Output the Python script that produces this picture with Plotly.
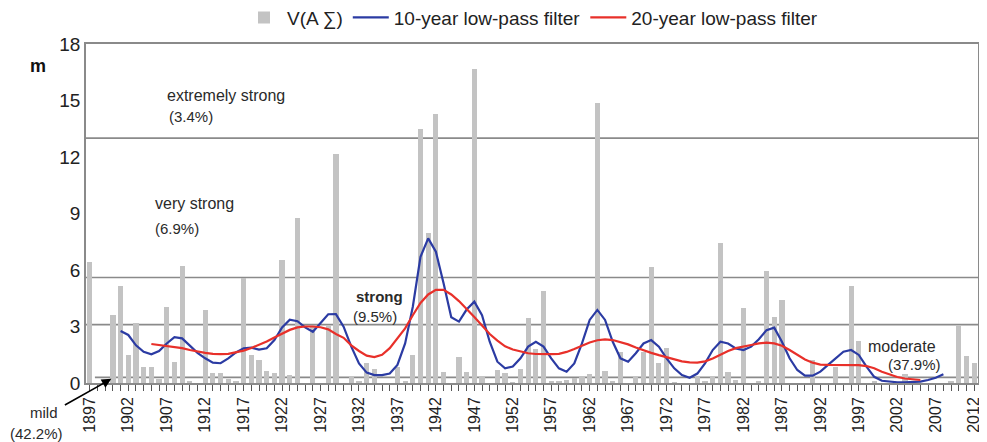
import plotly.graph_objects as go

# annual values V(AΣ), m, 1897-2012
years = list(range(1897, 2013))
v_sum = [
    6.45, 0, 0, 3.6, 5.15, 1.48, 3.2, 0.83, 0.83, 0.2,        # 1897-1906
    4.05, 1.12, 6.23, 0.07, 0, 3.9, 0.55, 0.55, 0.2, 0.1,     # 1907-1916
    5.58, 1.5, 1.22, 0.65, 0.55, 6.55, 0.42, 8.75, 0, 3.08,   # 1917-1926
    0, 3.1, 12.18, 0, 0.32, 0.07, 1.04, 0.73, 0, 0,           # 1927-1936
    0.85, 0.08, 1.49, 13.5, 7.95, 14.27, 0.6, 0, 1.4, 0.6,    # 1937-1946
    16.66, 0.33, 0, 0.69, 0.52, 0.05, 0.76, 3.45, 1.8, 4.89,  # 1947-1956
    0.07, 0.13, 0.15, 0.27, 0.32, 0.46, 14.85, 0.62, 0.1, 1.62,  # 1957-1966
    0, 0.34, 1.66, 6.16, 1.04, 1.84, 0.05, 0, 0, 0.3,         # 1967-1976
    0.1, 0.3, 7.43, 0.6, 0.17, 4.0, 0, 0.1, 5.93, 3.49,       # 1977-1986
    4.4, 0, 0, 0, 1.22, 0, 0, 0.84, 0, 5.17,                  # 1987-1996
    2.25, 0, 0.1, 0, 0, 0, 0.5, 0, 0, 0,                      # 1997-2006
    0, 0, 0.12, 3.08, 1.43, 1.08,                             # 2007-2012
]

# 10-year low-pass filter, 1901-2008
lp10_years = list(range(1901, 2009))
lp10 = [
    2.76, 2.55, 2.0, 1.66, 1.52, 1.7, 2.1, 2.43, 2.37, 2.0,
    1.6, 1.31, 1.08, 1.05, 1.31, 1.62, 1.84, 1.88, 1.77, 1.84,
    2.28, 2.95, 3.36, 3.28, 2.95, 2.72, 3.17, 3.65, 3.66, 2.99,
    1.93, 1.04, 0.55, 0.42, 0.42, 0.5, 0.96, 2.1, 4.05, 6.7,
    7.68, 6.97, 5.3, 3.49, 3.26, 3.9, 4.32, 3.6, 2.19, 1.13,
    0.78, 0.87, 1.31, 1.93, 2.19, 1.93, 1.31, 0.78, 0.6, 1.04,
    2.1, 3.35, 3.88, 3.35, 2.19, 1.31, 1.13, 1.58, 2.1, 2.28,
    1.93, 1.31, 0.78, 0.42, 0.28, 0.5, 1.04, 1.75, 2.19, 2.1,
    1.84, 1.75, 1.93, 2.32, 2.81, 2.94, 2.19, 1.31, 0.69, 0.39,
    0.39, 0.6, 0.96, 1.31, 1.66, 1.75, 1.49, 0.87, 0.33, 0.12,
    0.07, 0.04, 0.04, 0.04, 0.07, 0.16, 0.28, 0.46,
]

# 20-year low-pass filter, 1905-2005
lp20_years = list(range(1905, 2006))
lp20 = [
    2.07, 2.02, 1.97, 1.92, 1.85, 1.75, 1.66, 1.6, 1.55, 1.53,
    1.55, 1.62, 1.72, 1.86, 2.02, 2.2, 2.42, 2.62, 2.82, 2.95,
    3.0, 3.0, 2.96, 2.85, 2.6, 2.4, 2.0, 1.7, 1.45, 1.38,
    1.5, 1.85, 2.35, 2.9, 3.6, 4.25, 4.7, 4.95, 4.95, 4.7,
    4.35, 3.95, 3.5, 3.05, 2.6, 2.25, 1.95, 1.78, 1.66, 1.58,
    1.54, 1.53, 1.53, 1.55, 1.65, 1.8, 1.98, 2.15, 2.27, 2.32,
    2.28, 2.18, 2.05, 1.88, 1.72, 1.6, 1.48, 1.36, 1.24, 1.15,
    1.1, 1.08, 1.15, 1.3, 1.5, 1.7, 1.85, 1.95, 2.02, 2.1,
    2.14, 2.1, 1.98, 1.75, 1.5, 1.25, 1.08, 0.98, 0.96, 0.96,
    0.96, 0.96, 0.95, 0.9, 0.78, 0.6, 0.45, 0.32, 0.24, 0.19,
    0.16,
]

# class boundaries (m)
thresholds = [0.3, 3.1, 5.6, 13.0]

FONT = "Liberation Sans, Arial, sans-serif"
GRID = "#8a8a8a"

fig = go.Figure()

fig.add_trace(go.Bar(
    x=years, y=v_sum, name="V(A \u2211)",
    marker=dict(color="#c3c3c3", line=dict(width=0)),
    width=0.68,
))
fig.add_trace(go.Scatter(
    x=lp10_years, y=lp10, mode="lines", name="10-year low-pass filter",
    line=dict(color="#2b3ba3", width=2.2),
))
fig.add_trace(go.Scatter(
    x=lp20_years, y=lp20, mode="lines", name="20-year low-pass filter",
    line=dict(color="#e8302a", width=2.2),
))

# horizontal class lines
for t in thresholds:
    fig.add_shape(
        type="line", xref="paper", yref="y",
        x0=0.01 if t < 1 else 0, x1=1, y0=t, y1=t,
        line=dict(color=GRID, width=1.6), layer="below",
    )

labels = [
    ("extremely strong", 1906.8, 15.25, 16, False),
    ("(3.4%)", 1907.0, 14.15, 15, False),
    ("very strong", 1905.2, 9.55, 16, False),
    ("(6.9%)", 1905.2, 8.2, 15, False),
    ("strong", 1931.4, 4.6, 15, True),
    ("(9.5%)", 1931.0, 3.55, 15, False),
    ("moderate", 1997.9, 1.95, 16, False),
    ("(37.9%)", 2000.6, 1.0, 15, False),
]
for text, x, y, size, bold in labels:
    fig.add_annotation(
        x=x, y=y, text=f"<b>{text}</b>" if bold else text,
        xanchor="left", yanchor="middle", showarrow=False,
        font=dict(size=size, color="#2a2a2a", family=FONT),
    )

# mild class label with arrow, below the axis
fig.add_annotation(x=-0.047, y=-0.086, xref="paper", yref="paper", text="mild",
                   xanchor="center", yanchor="middle", showarrow=False,
                   font=dict(size=15, color="#2a2a2a", family=FONT))
fig.add_annotation(x=-0.055, y=-0.148, xref="paper", yref="paper", text="(42.2%)",
                   xanchor="center", yanchor="middle", showarrow=False,
                   font=dict(size=15, color="#2a2a2a", family=FONT))
fig.add_annotation(x=1899.8, y=0.22, text="", showarrow=True, ax=-48, ay=27,
                   arrowhead=2, arrowsize=1.2, arrowwidth=1.6, arrowcolor="black")

# y unit
fig.add_annotation(x=-0.054, y=0.936, xref="paper", yref="paper", text="<b>m</b>",
                   xanchor="center", yanchor="middle", showarrow=False,
                   font=dict(size=18, color="#111", family=FONT))

# page body adds ~8px offset, so the figure is sized to fit inside the window
fig.update_layout(
    width=979, height=434,
    margin=dict(l=78, r=9, t=36, b=59, autoexpand=False),
    plot_bgcolor="white", paper_bgcolor="white",
    font=dict(family=FONT, color="#222"),
    bargap=0,
    showlegend=True,
    legend=dict(
        orientation="h", x=0.5, xanchor="center", y=1.078, yanchor="middle",
        font=dict(size=19, family=FONT, color="#222"),
        bgcolor="rgba(0,0,0,0)", itemwidth=36, traceorder="normal",
    ),
)

fig.update_xaxes(
    range=[1896.5, 2012.5], automargin=False,
    tickmode="linear", tick0=1897, dtick=5,
    tickangle=-90, tickfont=dict(size=16, family=FONT, color="#222"),
    ticks="outside", ticklen=6, tickcolor="#555",
    minor=dict(dtick=1, tick0=1897, ticks="outside", ticklen=6, tickcolor="#555"),
    showgrid=False, showline=True, linecolor=GRID, linewidth=1.6, mirror=True,
    zeroline=False,
)
fig.update_yaxes(
    range=[0, 18], tickmode="linear", tick0=0, dtick=3, automargin=False,
    tickfont=dict(size=19, family=FONT, color="#222"),
    ticks="", showgrid=False, showline=True, linecolor=GRID, linewidth=1.6,
    mirror=True, zeroline=False,
)

fig.write_html("out.html")
